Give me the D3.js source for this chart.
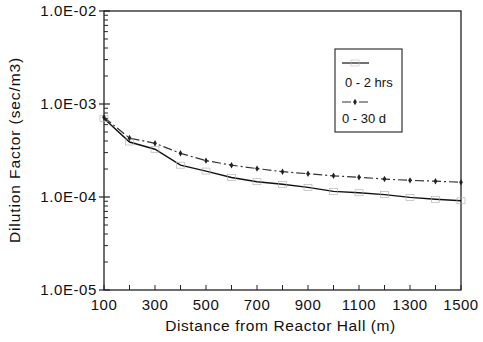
<!DOCTYPE html>
<html>
<head>
<meta charset="utf-8">
<script src="https://cdn.jsdelivr.net/npm/d3@7"></script>
<style>
  body { margin: 0; background: #fff; }
  svg { display: block; font-family: "Liberation Sans", Arial, sans-serif; }
</style>
</head>
<body>
<div id="chart"></div>
<script>
// distances in m
const distances = [100, 200, 300, 400, 500, 600, 700, 800, 900, 1000, 1100, 1200, 1300, 1400, 1500];
// dilution factor (sec/m3)
const shortTerm = [7.0e-4, 3.9e-4, 3.26e-4, 2.2e-4, 1.9e-4, 1.62e-4, 1.46e-4, 1.37e-4, 1.27e-4, 1.15e-4, 1.11e-4, 1.06e-4, 9.9e-5, 9.45e-5, 9.1e-5];
const longTerm = [7.2e-4, 4.3e-4, 3.78e-4, 2.95e-4, 2.46e-4, 2.2e-4, 2.02e-4, 1.87e-4, 1.78e-4, 1.69e-4, 1.63e-4, 1.56e-4, 1.51e-4, 1.48e-4, 1.44e-4];
const seriesNames = ["0 - 2 hrs", "0 - 30 d"];
const xTickLabels = [100, 300, 500, 700, 900, 1100, 1300, 1500];
const yTickLabels = [1e-5, 1e-4, 1e-3, 1e-2];

const width = 483, height = 342;
const margin = { top: 11, right: 22, bottom: 52, left: 104 };
const w = width - margin.left - margin.right;
const h = height - margin.top - margin.bottom;

const svg = d3.select("#chart").append("svg")
  .attr("width", width)
  .attr("height", height);
const g = svg.append("g").attr("transform", `translate(${margin.left},${margin.top})`);

const x = d3.scaleLinear().domain([100, 1500]).range([0, w]);
const y = d3.scaleLog().domain([1e-5, 1e-2]).range([h, 0]);

const fmtE = v => {
  const e = Math.round(Math.log10(v));
  return "1.0E-" + String(-e).padStart(2, "0");
};

// minor log ticks on left axis (inward)
const minor = [];
[1e-5, 1e-4, 1e-3].forEach(d => { for (let k = 2; k <= 9; k++) minor.push(d * k); });
g.selectAll(".ymin").data(minor).enter().append("line")
  .attr("x1", 0).attr("x2", 4)
  .attr("y1", d => y(d)).attr("y2", d => y(d))
  .attr("stroke", "#222").attr("stroke-width", 1);
g.selectAll(".ymaj").data(yTickLabels).enter().append("line")
  .attr("x1", -5).attr("x2", 6)
  .attr("y1", d => y(d)).attr("y2", d => y(d))
  .attr("stroke", "#222").attr("stroke-width", 1.2);
g.selectAll(".ylab").data(yTickLabels).enter().append("text")
  .attr("x", -7).attr("y", d => y(d)).attr("dy", "0.35em")
  .attr("text-anchor", "end")
  .style("font-size", "15px").style("letter-spacing", "0.6px")
  .attr("fill", "#111")
  .text(fmtE);

// x ticks every 100 m (inward)
g.selectAll(".xt").data(d3.range(100, 1501, 100)).enter().append("line")
  .attr("x1", d => x(d)).attr("x2", d => x(d))
  .attr("y1", h).attr("y2", h - 5)
  .attr("stroke", "#222").attr("stroke-width", 1);
g.selectAll(".xlab").data(xTickLabels).enter().append("text")
  .attr("x", d => x(d)).attr("y", h + 20)
  .attr("text-anchor", "middle")
  .style("font-size", "15px").style("letter-spacing", "0.5px")
  .attr("fill", "#111")
  .text(d => d);

// frame
g.append("rect").attr("width", w).attr("height", h)
  .attr("fill", "none").attr("stroke", "#222").attr("stroke-width", 1.3);

// lines
const line = d3.line().x((d, i) => x(distances[i])).y(d => y(d));
g.append("path").datum(longTerm).attr("d", line)
  .attr("fill", "none").attr("stroke", "#333").attr("stroke-width", 1.2)
  .attr("stroke-dasharray", "9,3,2,3");
g.append("path").datum(shortTerm).attr("d", line)
  .attr("fill", "none").attr("stroke", "#111").attr("stroke-width", 1.4);

// markers
g.selectAll(".m1").data(shortTerm).enter().append("rect")
  .attr("x", (d, i) => x(distances[i]) - 4).attr("y", d => y(d) - 3)
  .attr("width", 8).attr("height", 6)
  .attr("fill", "none").attr("stroke", "#aaa").attr("stroke-width", 0.6);
g.selectAll(".m2").data(longTerm).enter().append("path")
  .attr("transform", (d, i) => `translate(${x(distances[i])},${y(d)})`)
  .attr("d", d3.symbol().type(d3.symbolDiamond).size(12))
  .attr("fill", "#222");

// legend
const lg = svg.append("g").attr("transform", "translate(335,49)");
lg.append("rect").attr("width", 67).attr("height", 83)
  .attr("fill", "#fff").attr("stroke", "#222").attr("stroke-width", 1.1);
lg.append("line").attr("x1", 7).attr("x2", 34).attr("y1", 14).attr("y2", 14)
  .attr("stroke", "#111").attr("stroke-width", 1.2);
lg.append("rect").attr("x", 16).attr("y", 11).attr("width", 8).attr("height", 6)
  .attr("fill", "none").attr("stroke", "#bbb").attr("stroke-width", 0.6);
lg.append("text").attr("x", 10).attr("y", 38)
  .style("font-size", "13px").attr("fill", "#111").text(seriesNames[0]);
lg.append("line").attr("x1", 7).attr("x2", 34).attr("y1", 53).attr("y2", 53)
  .attr("stroke", "#333").attr("stroke-width", 1.1).attr("stroke-dasharray", "9,3,2,3");
lg.append("path").attr("transform", "translate(20,53)")
  .attr("d", d3.symbol().type(d3.symbolDiamond).size(12)).attr("fill", "#222");
lg.append("text").attr("x", 7).attr("y", 74)
  .style("font-size", "13px").attr("fill", "#111").text(seriesNames[1]);

// axis titles
svg.append("text")
  .attr("x", margin.left + w / 2 - 2).attr("y", 331)
  .attr("text-anchor", "middle")
  .style("font-size", "15.5px").style("letter-spacing", "0.6px")
  .attr("fill", "#111")
  .text("Distance from Reactor Hall (m)");
svg.append("text")
  .attr("transform", "translate(20,150) rotate(-90)")
  .attr("text-anchor", "middle")
  .style("font-size", "15.5px").style("letter-spacing", "0.9px")
  .attr("fill", "#111")
  .text("Dilution Factor (sec/m3)");
</script>
</body>
</html>
